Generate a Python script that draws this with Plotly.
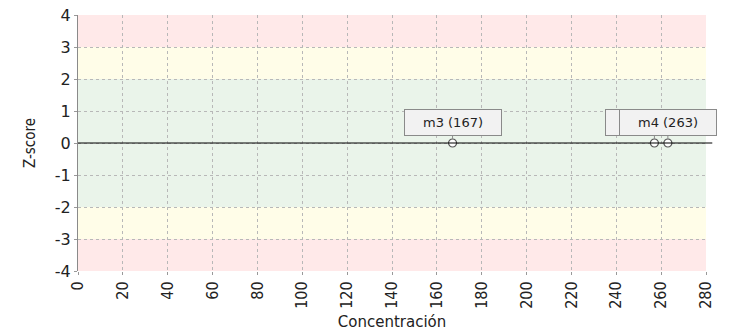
import plotly.graph_objects as go

# Sample results: name, concentration and z-score
sample_names = ["m2", "m3", "m4"]
concentrations = [257, 167, 263]
z_scores = [0, 0, 0]

# Acceptance bands on the z-score axis: (low, high, colour)
band_limits = [(-4, -3), (-3, -2), (-2, 2), (2, 3), (3, 4)]
band_colors = ["#ffe9e9", "#fffde8", "#eaf4ea", "#fffde8", "#ffe9e9"]

x_ticks = list(range(0, 281, 20))
y_ticks = list(range(-4, 5))

FONT = "DejaVu Sans Condensed, DejaVu Sans, sans-serif"

fig = go.Figure()

fig.add_trace(go.Scatter(
    x=concentrations, y=z_scores, mode="markers",
    marker=dict(symbol="circle", size=8, color="white",
                line=dict(color="#555555", width=1.2)),
    hoverinfo="skip", showlegend=False,
))

shapes = []
for (lo, hi), col in zip(band_limits, band_colors):
    shapes.append(dict(type="rect", xref="paper", yref="y", x0=0, x1=1,
                       y0=lo, y1=hi, fillcolor=col, line=dict(width=0),
                       layer="below"))
# horizontal reference line at z = 0
shapes.append(dict(type="line", xref="paper", yref="y", x0=0, x1=1.01,
                   y0=0, y1=0, line=dict(color="black", width=1.2)))

annotations = []
for name, cx, zy in zip(sample_names, concentrations, z_scores):
    annotations.append(dict(
        x=cx, y=zy, xref="x", yref="y", text=f"{name} ({cx})",
        showarrow=True, ax=0, ay=-21, arrowhead=0, arrowwidth=1,
        arrowcolor="#8a8a8a", standoff=4,
        bgcolor="#f2f2f2", bordercolor="#8a8a8a", borderwidth=1,
        borderpad=5, width=86,
        font=dict(family="DejaVu Sans, sans-serif", size=13, color="#222222"),
    ))

fig.update_layout(
    width=731, height=331,
    margin=dict(l=78, r=25, t=15, b=60, autoexpand=False),
    paper_bgcolor="white", plot_bgcolor="white",
    shapes=shapes, annotations=annotations,
    font=dict(family=FONT, size=15, color="#222222"),
)

fig.update_xaxes(
    range=[0, 280], tickvals=x_ticks, ticktext=[str(v) for v in x_ticks],
    tickangle=-90, showgrid=True, gridcolor="#b8b8b8", griddash="3px,3px",
    gridwidth=1, zeroline=False, showline=False, automargin=False,
    ticks="outside", ticklen=3, tickcolor="#999999",
    tickfont=dict(family=FONT, size=16),
    title=dict(text="Concentración",
               font=dict(family="DejaVu Sans, sans-serif", size=15)),
)
fig.update_yaxes(
    range=[-4, 4], tickvals=y_ticks, ticktext=[str(v) for v in y_ticks],
    showgrid=True, gridcolor="#b8b8b8", griddash="3px,3px", gridwidth=1,
    zeroline=False, showline=True, linecolor="#8a8a8a", linewidth=1,
    automargin=False,
    ticks="outside", ticklen=3, tickcolor="#999999",
    tickfont=dict(family="DejaVu Sans, sans-serif", size=16),
    title=dict(text="Z-score", font=dict(family=FONT, size=15)),
)

fig.write_html("out.html")
